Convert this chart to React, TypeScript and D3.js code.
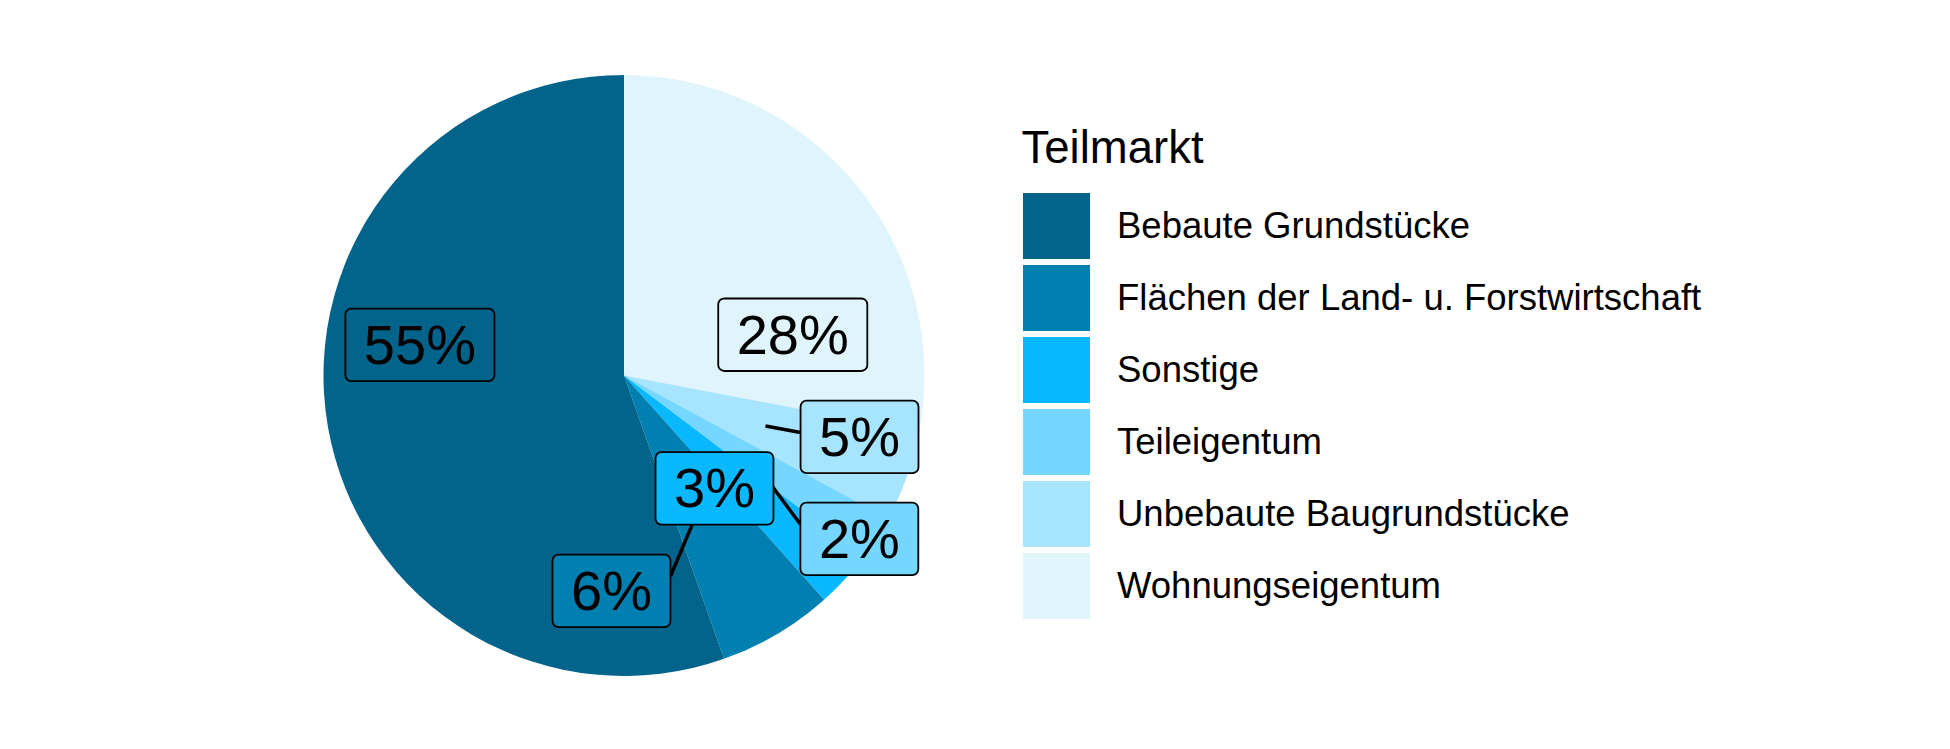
import * as d3 from 'd3';

// Teilmarkt shares (percent), legend order
const categories = [
    'Bebaute Grundstücke',
    'Flächen der Land- u. Forstwirtschaft',
    'Sonstige',
    'Teileigentum',
    'Unbebaute Baugrundstücke',
    'Wohnungseigentum',
];
const shares = [55.4, 6.2, 3.1, 2.4, 4.9, 28.0];
const colors = ['#02638B', '#0080B0', '#0AB8FF', '#75D6FF', '#A6E4FF', '#E0F4FC'];

// repelled label offsets (px) from each slice's anchor point
const labelNudge: [number, number][] = [
    [-56, -56],
    [-89, 86],
    [-20, 11],
    [109, 82],
    [94, 11],
    [53, 55],
];

const FONT = "'Liberation Sans', Arial, Helvetica, sans-serif";
const width = 1950;
const height = 749;
const cx = 624;
const cy = 375.5;
const radius = 300.5;

const measure = (() => {
    const ctx = document.createElement('canvas').getContext('2d')!;
    return (txt: string, size: number) => {
        ctx.font = `${size}px ${FONT}`;
        return ctx.measureText(txt).width;
    };
})();

type Slice = { name: string; value: number; color: string; nudge: [number, number] };

const App = () => {
    const data: Slice[] = categories.map((name, i) => ({
        name,
        value: shares[i],
        color: colors[i],
        nudge: labelNudge[i],
    }));

    // ggplot stacks from the last level, clockwise from 12 o'clock
    const pieOrder = [...data].reverse();
    const arcs = d3.pie<Slice>().sort(null).value(d => d.value)(pieOrder);
    const arcGen = d3.arc<d3.PieArcDatum<Slice>>().innerRadius(0).outerRadius(radius);
    const anchorArc = d3.arc<d3.PieArcDatum<Slice>>().innerRadius(radius / 2).outerRadius(radius / 2);

    const labelSize = 56;
    const boxH = 72.5;

    const labels = arcs.map(a => {
        const [ax, ay] = anchorArc.centroid(a);
        const px = cx + ax;
        const py = cy + ay;
        const text = `${Math.round(a.data.value)}%`;
        const w = measure(text, labelSize) + 37;
        const bx = px + a.data.nudge[0];
        const by = py + a.data.nudge[1];
        const x0 = bx - w / 2, x1 = bx + w / 2, y0 = by - boxH / 2, y1 = by + boxH / 2;
        let ex: number, ey: number;
        if (px < x0 || px > x1) {
            ex = px < x0 ? x0 : x1;
            const c = Math.max(y0, Math.min(y1, py));
            ey = c + (by - c) * 0.6;
        } else {
            ey = py < y0 ? y0 : y1;
            const c = Math.max(x0, Math.min(x1, px));
            ex = c + (bx - c) * 0.6;
        }
        // like ggrepel: no segment when the label sits on / very close to its point
        const nx = Math.max(x0, Math.min(x1, px));
        const ny = Math.max(y0, Math.min(y1, py));
        const gap = Math.hypot(nx - px, ny - py);
        return { a, px, py, text, w, bx, by, x0, y0, ex, ey, showSeg: gap > 28 };
    });

    const legendX = 1023;
    const legendY = 193;
    const keyW = 67;
    const keyH = 66;
    const pitch = 72;

    return (
        <svg width={width} height={height}
            style={{ position: 'absolute', left: 0, top: 0, display: 'block', background: '#fff' }}
            fontFamily={FONT}>
            <g>
                {arcs.map((a, i) => (
                    <path key={i} d={arcGen(a) ?? ''} transform={`translate(${cx},${cy})`} fill={a.data.color} />
                ))}
            </g>
            <g>
                {labels.filter(l => l.showSeg).map((l, i) => (
                    <line key={i} x1={l.px} y1={l.py} x2={l.ex} y2={l.ey} stroke='#000' strokeWidth={3.5} />
                ))}
            </g>
            <g>
                {labels.map((l, i) => (
                    <g key={i}>
                        <rect x={l.x0} y={l.y0} width={l.w} height={boxH} rx={6} ry={6}
                            fill={l.a.data.color} stroke='#000' strokeWidth={1.8} />
                        <text x={l.bx} y={l.by + 19} textAnchor='middle' fontSize={labelSize} fill='#000'>{l.text}</text>
                    </g>
                ))}
            </g>
            <g>
                <text x={1021.5} y={163.3} fontSize={45.5} fill='#000'>Teilmarkt</text>
                {data.map((d, i) => (
                    <g key={d.name} transform={`translate(${legendX},${legendY + i * pitch})`}>
                        <rect width={keyW} height={keyH} fill={d.color} />
                        <text x={94} y={45.3} fontSize={36.5} fill='#000'>{d.name}</text>
                    </g>
                ))}
            </g>
        </svg>
    );
};

export default App;
